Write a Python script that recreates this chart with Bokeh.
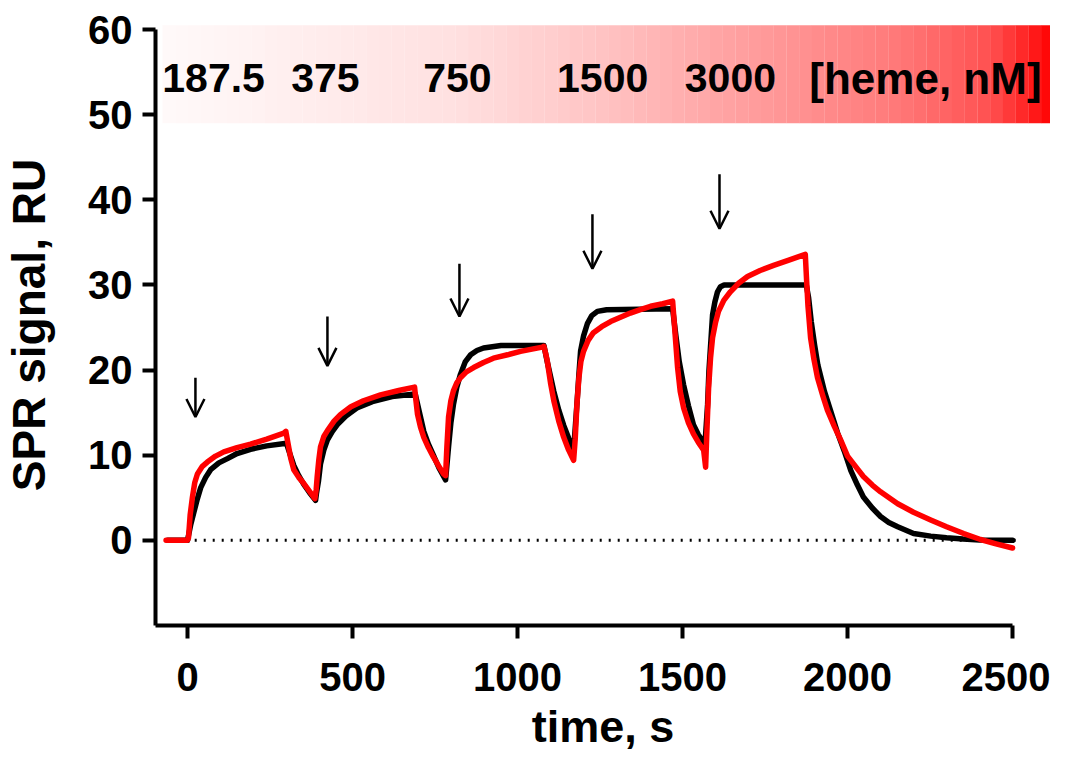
from bokeh.plotting import figure
from bokeh.models import ColumnDataSource, Arrow, OpenHead, FixedTicker, Range1d
from bokeh.core.properties import value
from bokeh.embed import file_html
from bokeh.resources import INLINE

# ---------------- data ----------------
# global fit (black)
fit_t = [-60, 0, 10, 20, 30, 40, 55, 70, 95, 121, 150, 191, 240, 300,
         310, 322, 337, 352, 370, 388,
         391, 397, 403, 413, 424, 439, 454, 480, 515, 560, 620, 690,
         700, 716, 730, 745, 762, 782,
         791, 798, 806, 816, 827, 842, 858, 877, 897, 950, 1080,
         1090, 1110, 1125, 1140, 1155, 1170,
         1180, 1186, 1191, 1200, 1212, 1225, 1242, 1270, 1470,
         1480, 1490, 1503, 1518, 1533, 1548, 1568,
         1576, 1580, 1586, 1591, 1598, 1606, 1615, 1626, 1875,
         1882, 1890, 1900, 1910, 1930, 1948, 1970, 1990, 2010, 2030, 2048,
         2075, 2100, 2125, 2152, 2200, 2252, 2300, 2350, 2400, 2500]
fit_y = [0, 0, 1.9, 3.4, 4.9, 6.2, 7.4, 8.3, 9.1, 9.6, 10.2, 10.7, 11.1, 11.4,
         10.2, 8.8, 7.6, 6.6, 5.6, 4.7,
         5.6, 7.0, 9.0, 10.6, 11.8, 12.8, 13.6, 14.6, 15.6, 16.3, 16.9, 17.2,
         15.5, 12.8, 11.3, 10.0, 8.5, 7.1,
         11.0, 13.8, 16.0, 18.0, 19.5, 21.0, 21.8, 22.3, 22.6, 22.9, 22.9,
         21.0, 17.5, 15.3, 13.5, 12.0, 10.6,
         16.0, 19.5, 22.2, 24.0, 25.5, 26.4, 26.9, 27.1, 27.2,
         24.0, 21.0, 18.3, 15.8, 13.6, 12.4, 11.3,
         16.0, 19.9, 23.5, 26.5, 28.0, 29.2, 29.8, 30.0, 30.0,
         28.5, 25.7, 23.0, 20.6, 17.5, 15.3, 12.6, 10.5, 8.2, 6.5, 5.1,
         3.8, 2.8, 2.1, 1.6, 0.8, 0.5, 0.3, 0.15, 0.05, 0.0]

# measured SPR signal (red)
data_t = [-65, 0, 3, 8, 15, 22, 30, 45, 60, 85, 110, 150, 191, 240, 292, 298,
          305, 313, 322, 337, 352, 367, 382, 386,
          390, 393, 398, 403, 413, 424, 444, 464, 495, 533, 585, 640, 688,
          692, 697, 706, 716, 730, 745, 760, 776, 782,
          786, 791, 798, 806, 816, 827, 845, 867, 897, 927, 970, 1009, 1075, 1080,
          1085, 1090, 1100, 1110, 1125, 1140, 1155, 1170,
          1175, 1180, 1186, 1192, 1200, 1214, 1230, 1255, 1282, 1312, 1342, 1372, 1403, 1440, 1470,
          1476, 1485, 1493, 1503, 1518, 1533, 1548, 1564, 1570,
          1573, 1576, 1579, 1585, 1591, 1600, 1609, 1625, 1645, 1670, 1697, 1735, 1776, 1820, 1872,
          1876, 1880, 1888, 1898, 1909, 1925, 1939, 1960, 1979, 2000, 2030, 2048, 2075,
          2100, 2152, 2200, 2252, 2300, 2352, 2403, 2450, 2500]
data_y = [0, 0, 0.3, 3.0, 5.1, 6.8, 7.8, 8.7, 9.2, 9.9, 10.4, 10.9, 11.3, 11.9, 12.6, 12.8,
          11.3, 9.6, 8.3, 7.4, 6.7, 5.9, 5.1, 4.9,
          6.0, 7.5, 9.5, 11.0, 12.2, 12.9, 14.0, 14.8, 15.7, 16.4, 17.1, 17.6, 18.0,
          16.5, 14.8, 13.3, 12.1, 10.9, 9.8, 8.8, 7.8, 7.6,
          11.0, 14.5, 16.4, 17.6, 18.5, 19.1, 19.8, 20.3, 20.9, 21.4, 21.8, 22.2, 22.7, 22.8,
          22.0, 21.1, 18.5, 16.4, 14.0, 12.1, 10.6, 9.4,
          12.0, 16.0, 19.1, 21.0, 22.2, 23.5, 24.4, 25.1, 25.7, 26.2, 26.7, 27.1, 27.5, 27.8, 28.1,
          25.0, 20.3, 17.5, 15.6, 13.8, 12.5, 11.5, 10.6, 8.6,
          12.0, 15.0, 17.9, 21.5, 23.8, 25.6, 26.9, 28.2, 29.2, 30.2, 31.0, 31.7, 32.3, 32.9, 33.6,
          30.5, 27.6, 23.8, 21.3, 19.1, 17.0, 15.3, 13.4, 11.8, 9.9, 8.4, 7.5, 6.5,
          5.7, 4.3, 3.3, 2.4, 1.6, 0.8, 0.1, -0.4, -0.9]

conc_labels = ["187.5", "375", "750", "1500", "3000"]
conc_label_t = [79, 418, 818, 1258, 1645]
unit_label = "[heme, nM]"
unit_label_t = 2236

arrow_t = [24, 424, 824, 1227, 1612]
arrow_top = [19.1, 26.3, 32.5, 38.3, 43.0]
arrow_bottom = [14.5, 20.5, 26.3, 31.9, 36.6]

x_ticks = [0, 500, 1000, 1500, 2000, 2500]
y_ticks = [0, 10, 20, 30, 40, 50, 60]

# ---------------- layout / style ----------------
FONT = "Liberation Sans"
band_x0, band_x1 = -76, 2625
band_y0, band_y1 = 49.0, 60.5
label_y = 54.3
# gradient anchors (fraction along band, green/blue channel value)
grad_f = [0.0, 0.33, 0.49, 0.61, 0.82, 0.93, 1.0]
grad_g = [250, 224, 196, 168, 122, 80, 0]

p = figure(width=1050, height=754,
           x_range=Range1d(-97, 2615), y_range=Range1d(-10, 60.6),
           output_backend="svg", toolbar_location=None,
           min_border_left=155, min_border_right=0,
           min_border_top=24, min_border_bottom=124)

p.xgrid.visible = False
p.ygrid.visible = False
p.outline_line_color = None
p.background_fill_color = "white"
p.border_fill_color = "white"


def interp(f, xs, ys):
    for k in range(len(xs) - 1):
        if xs[k] <= f <= xs[k + 1]:
            a = (f - xs[k]) / (xs[k + 1] - xs[k])
            return ys[k] + a * (ys[k + 1] - ys[k])
    return ys[-1]


n_steps = 70
lefts, rights, colors = [], [], []
w = (band_x1 - band_x0) / n_steps
for i in range(n_steps):
    f = (i + 0.5) / n_steps
    g = int(round(interp(f, grad_f, grad_g)))
    g = max(0, min(255, g))
    lefts.append(band_x0 + i * w)
    rights.append(band_x0 + (i + 1) * w + 0.5)
    colors.append("#ff%02x%02x" % (g, g))
p.quad(left=lefts, right=rights, bottom=band_y0, top=band_y1,
       fill_color=colors, line_color=None)

p.text(x=conc_label_t, y=[label_y] * len(conc_labels), text=conc_labels,
       text_font=value(FONT), text_font_style="bold", text_font_size="41px",
       text_align="center", text_baseline="middle", text_color="black")
p.text(x=[unit_label_t], y=[label_y], text=[unit_label],
       text_font=value(FONT), text_font_style="bold", text_font_size="44px",
       text_align="center", text_baseline="middle", text_color="black")

# zero line (dotted)
p.line(x=[-60, 2525], y=[0, 0], line_color="black", line_width=3,
       line_dash="2 7")

p.line(x=fit_t, y=fit_y, line_color="black", line_width=5.5,
       line_join="round", line_cap="round")
p.line(x=data_t, y=data_y, line_color="#ff0000", line_width=5.5,
       line_join="round", line_cap="round")

asrc = ColumnDataSource(dict(x0=arrow_t, y0=arrow_top, x1=arrow_t, y1=arrow_bottom))
p.add_layout(Arrow(end=OpenHead(size=18, line_width=2.5, line_color="black"),
                   x_start="x0", y_start="y0", x_end="x1", y_end="y1",
                   line_width=2.5, line_color="black", source=asrc))

# axes
p.xaxis.ticker = FixedTicker(ticks=x_ticks)
p.yaxis.ticker = FixedTicker(ticks=y_ticks)
p.xaxis.bounds = (-97, 2500)
p.yaxis.bounds = (-10, 60)
p.xaxis.axis_label = "time, s"
p.yaxis.axis_label = "SPR signal, RU"
for ax in (p.xaxis[0], p.yaxis[0]):
    ax.axis_line_width = 4
    ax.axis_line_color = "black"
    ax.major_tick_line_width = 4
    ax.major_tick_line_color = "black"
    ax.major_tick_out = 13
    ax.major_tick_in = 0
    ax.minor_tick_line_color = None
    ax.major_label_text_font = FONT
    ax.major_label_text_font_style = "bold"
    ax.major_label_text_font_size = "40px"
    ax.major_label_text_color = "black"
    ax.axis_label_text_font = FONT
    ax.axis_label_text_font_style = "bold"
    ax.axis_label_text_color = "black"
p.xaxis.axis_label_text_font_size = "45px"
p.yaxis.axis_label_text_font_size = "46px"
p.xaxis.major_label_standoff = 24
p.yaxis.major_label_standoff = 10
p.xaxis.axis_label_standoff = 7
p.yaxis.axis_label_standoff = 30

open("out.html", "w").write(file_html(p, INLINE))
